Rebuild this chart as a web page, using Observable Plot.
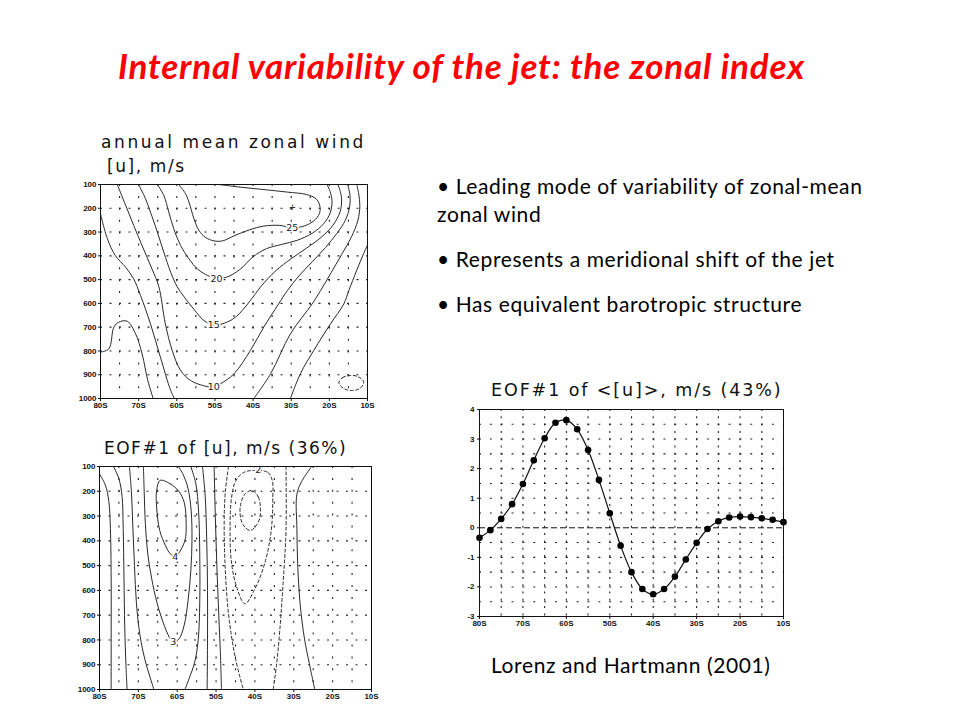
<!DOCTYPE html>
<html><head><meta charset="utf-8">
<script src="https://cdn.jsdelivr.net/npm/d3@7"></script>
<script src="https://cdn.jsdelivr.net/npm/@observablehq/plot@0.6"></script>
<style>
body{margin:0;background:#fff;}
#slide{position:relative;width:960px;height:720px;overflow:hidden;background:#fff;}
.abs{position:absolute;white-space:nowrap;}
.title{font-family:Lato;font-weight:bold;font-style:italic;font-size:35px;line-height:35px;letter-spacing:0.8px;color:#ff0000;}
.bul{font-family:Lato;font-size:21px;line-height:21px;letter-spacing:0.6px;color:#000;}
.pt{font-family:"DejaVu Sans";color:#111;line-height:17px;}
</style></head><body><div id="slide">
<div class="abs title" style="left:118px;top:48px;">Internal variability of the jet: the zonal index</div>
<div class="abs pt" style="left:101px;top:134px;font-size:17px;letter-spacing:2.6px;">annual mean zonal wind</div>
<div class="abs pt" style="left:107px;top:158px;font-size:17px;letter-spacing:1.6px;">[u], m/s</div>
<div class="abs pt" style="left:104px;top:440px;font-size:17px;letter-spacing:1.5px;">EOF#1 of [u], m/s (36%)</div>
<div class="abs pt" style="left:491px;top:382px;font-size:17.5px;letter-spacing:1.9px;">EOF#1 of &lt;[u]&gt;, m/s (43%)</div>
<div class="abs bul" style="left:437px;top:175px;">• Leading mode of variability of zonal-mean</div>
<div class="abs bul" style="left:437px;top:203px;">zonal wind</div>
<div class="abs bul" style="left:437px;top:248px;">• Represents a meridional shift of the jet</div>
<div class="abs bul" style="left:437px;top:293px;">• Has equivalent barotropic structure</div>
<div class="abs bul" style="left:491px;top:654px;">Lorenz and Hartmann (2001)</div>
<div class="abs" id="c1" style="left:60px;top:178px;"></div>
<div class="abs" id="c2" style="left:59px;top:460px;"></div>
<div class="abs" id="c3" style="left:440px;top:403px;"></div>
</div>
<script>
// ---------- axis ticks ----------
const latTicks = [80, 70, 60, 50, 40, 30, 20, 10];
const latGrid = [75, 70, 65, 60, 55, 50, 45, 40, 35, 30, 25, 20, 15];
const pTicks = [100, 200, 300, 400, 500, 600, 700, 800, 900, 1000];
const pGrid = [200, 300, 400, 500, 600, 700, 800, 900];
const eofTicks = [-3, -2, -1, 0, 1, 2, 3, 4];
const eofGrid = [-2.5, -2, -1.5, -1, -0.5, 0.5, 1, 1.5, 2, 2.5, 3, 3.5];

// ---------- panel 1: annual mean zonal wind [lat S, hPa] ----------
const u25 = [[59.5,100],[57.7,139],[56.8,174],[55.5,244],[54.2,293],[52.5,322],[50.3,337],[48,337],[45,316],[41,291],[37.2,275],[33,272],[29.7,282],[26.5,274],[24,252],[22.6,222],[22.5,190],[23.5,160],[26,142],[31,132],[38,120],[44,110],[49,100]];
const u20 = [[65.1,100],[63.4,146],[62.1,216],[60.8,286],[59,357],[56.8,413],[54.6,455],[52.5,478],[50,493],[47,490],[43.5,458],[40,404],[36.5,370],[32.5,352],[28.5,335],[24.5,305],[21.5,265],[19.8,220],[19.3,170],[19.8,130],[20.6,100]];
const u15 = [[70,100],[68.2,160],[66.9,216],[65.1,300],[63.4,385],[61.6,469],[59.9,530],[58.2,570],[55.5,625],[52.9,672],[50.3,692],[47.5,683],[44.6,658],[40.7,588],[38,530],[34,462],[30,412],[26,368],[22,320],[19,270],[17.2,215],[16.8,160],[17.3,120],[17.8,100]];
const u10 = [[75.6,100],[73.4,188],[71.3,272],[69.1,357],[66.5,455],[64.7,530],[63,686],[61.2,798],[59,882],[56.4,924],[53,946],[50.3,952],[48.5,938],[45,896],[40.7,798],[37.2,700],[33.3,602],[31,546],[28,485],[24.5,425],[21,365],[18,305],[15.8,250],[14.7,195],[14.6,145],[15.2,100]];
const u5a = [[80,223],[78.2,328],[76.1,399],[73.4,448],[71.3,497],[69.5,567],[66.9,686],[64.3,826],[61.6,966],[60.6,1000]];
const u5b = [[39.8,1000],[35.4,896],[30.2,728],[24.5,602],[22.3,546],[19.5,470],[16.8,395],[14.2,320],[12.5,250],[12,190],[12.3,140],[12.8,100]];
const u0a = [[80,805],[77.8,791],[76.5,700],[75.2,679],[73,675],[70.8,728],[69.1,812],[67.6,924],[66.2,1000]];
const u0b = [[30.2,1000],[27.6,896],[24.1,798],[19.7,686],[16.2,602],[14.9,546],[12.8,460],[11,390],[10,355]];
const uNeg5 = [[17.5,935],[16.5,912],[14.5,903],[12.5,908],[11,930],[12,958],[14,966],[16,960]];
const uLabels = [["25",29.7,284],["20",49.6,497],["15",50.3,692],["10",50.3,952]];
const uMax = [[29.7,195]];

// ---------- panel 2: EOF#1 of [u] ----------
const e0a = [[80,130],[78.5,175],[77.6,240],[77.2,350],[77,550],[77,800],[77,1000]];
const e1a = [[76.4,100],[75,150],[74.2,220],[73.9,350],[73.7,550],[73.5,750],[73.2,900],[72.9,1000]];
const e2a = [[72.3,100],[71.8,200],[71.4,350],[71,500],[70.5,650],[69.6,780],[68.3,880],[67,950],[66,1000]];
const e3 = [[68.7,100],[68.5,200],[68.2,330],[67.6,450],[66.6,550],[65.2,650],[63.6,730],[62,790],[61,810],[59.5,795],[58.2,740],[57.2,640],[56.5,520],[56.2,400],[56.4,280],[57.2,190],[58.4,135],[59.7,100]];
const e4 = [[64.4,156],[61.8,170],[59.6,200],[58.2,245],[57.7,331],[58,398],[59.7,452],[60.5,463],[61.8,452],[63,420],[64.5,358],[65.3,264],[65.3,197]];
const e2b = [[56.5,100],[55.2,170],[54.5,280],[54.2,450],[54.2,650],[54.6,800],[55.5,890],[56.8,950],[58,1000]];
const e1b = [[53.5,100],[52.8,220],[52.4,400],[52.2,600],[52.2,800],[52.3,1000]];
const e0b = [[50.5,100],[50.2,300],[49.8,500],[49.3,700],[48.9,850],[48.6,1000]];
const eN1a = [[46.8,100],[47.6,200],[47.9,300],[47.7,492],[46.8,694],[45.1,868],[43,1000]];
const eN1b = [[32,100],[32,358],[32.7,559],[33.6,761],[34.4,895],[35.3,1000]];
const eN2 = [[39.6,115],[36.6,125],[35.5,160],[35.4,224],[35.8,358],[37.5,492],[40.2,600],[42.6,654],[44.7,586],[46,492],[46.4,358],[46,224],[45,160],[43,125]];
const eN3 = [[40.8,197],[39.1,224],[38.7,304],[40,345],[41.3,358],[43.2,331],[43.8,264],[42.5,210]];
const e0c = [[25.4,100],[27.2,140],[28.6,180],[29.3,224],[29.2,350],[29,492],[28.4,650],[27.2,800],[26,895],[24.6,1000]];
const eLabels = [["4",60.5,465],["3",61,810],["-2",39.6,115]];

// ---------- panel 3: EOF#1 of <[u]> ----------
const eofLat = [80,77.5,75,72.5,70,67.5,65,62.5,60,57.5,55,52.5,50,47.5,45,42.5,40,37.5,35,32.5,30,27.5,25,22.5,20,17.5,15,12.5,10];
const eofValue = [-0.34,-0.08,0.30,0.80,1.48,2.28,3.03,3.55,3.64,3.33,2.63,1.62,0.49,-0.61,-1.50,-2.07,-2.25,-2.07,-1.65,-1.07,-0.51,-0.04,0.22,0.35,0.38,0.36,0.32,0.27,0.19];

// ---------- helpers ----------
function rows(list) {
  const out = [];
  list.forEach(([id, pts]) => pts.forEach(([lat, p]) => out.push({id, lat, p})));
  return out;
}
const tickStyle = {fontFamily: "Liberation Sans", fontSize: "8px", fontWeight: "bold", background: "transparent", color: "#111"};
const lineStroke = "#2a2a2a";
const dotGridX = (data, dash) => Plot.gridX(data, {stroke: "#222", strokeOpacity: 1, strokeWidth: 1.1, strokeDasharray: dash});
const dotGridY = (data, dash) => Plot.gridY(data, {stroke: "#222", strokeOpacity: 1, strokeWidth: 1.1, strokeDasharray: dash});

function contourPanel(opts) {
  return Plot.plot({
    width: opts.width, height: opts.height,
    marginLeft: opts.ml, marginRight: opts.mr, marginTop: opts.mt, marginBottom: opts.mb,
    style: tickStyle,
    x: {domain: [80, 10], ticks: latTicks, tickFormat: d => d + "S", tickSize: 3, tickPadding: 1, label: null},
    y: {domain: [100, 1000], reverse: true, ticks: pTicks, tickFormat: d => String(d), tickSize: 2, tickPadding: 2, label: null},
    marks: [
      dotGridX(latGrid, "2,9.9"),
      dotGridY(pGrid, "2,7.5"),
      Plot.line(rows(opts.solid), {x: "lat", y: "p", z: "id", curve: "catmull-rom", stroke: lineStroke, strokeWidth: 1, clip: true}),
      Plot.line(rows(opts.solidClosed || []), {x: "lat", y: "p", z: "id", curve: "catmull-rom-closed", stroke: lineStroke, strokeWidth: 1, clip: true}),
      Plot.line(rows(opts.dashed || []), {x: "lat", y: "p", z: "id", curve: "catmull-rom", stroke: lineStroke, strokeWidth: 1, strokeDasharray: "3,2.5", clip: true}),
      Plot.line(rows(opts.dashedClosed || []), {x: "lat", y: "p", z: "id", curve: "catmull-rom-closed", stroke: lineStroke, strokeWidth: 1, strokeDasharray: "3,2.5", clip: true}),
      Plot.text(opts.labels, {x: d => d[1], y: d => d[2], text: d => d[0], fontSize: 9.5, fontWeight: "normal", fontFamily: "DejaVu Sans", fill: "#222", stroke: "white", strokeWidth: 3}),
      ...(opts.extra || []),
      Plot.frame({stroke: "#111", strokeWidth: 1})
    ]
  });
}

document.getElementById("c1").append(contourPanel({
  width: 320, height: 242, ml: 40, mr: 13, mt: 6, mb: 22,
  solid: [["25", u25], ["20", u20], ["15", u15], ["10", u10], ["5a", u5a], ["5b", u5b], ["0a", u0a], ["0b", u0b]],
  dashedClosed: [["-5", uNeg5]],
  labels: uLabels,
  extra: [Plot.text(uMax, {x: d => d[0], y: d => d[1], text: () => "+", fontSize: 11, fontWeight: "normal", fill: "#333"})]
}));

document.getElementById("c2").append(contourPanel({
  width: 320, height: 251, ml: 40, mr: 8, mt: 6, mb: 22,
  solid: [["0a", e0a], ["1a", e1a], ["2a", e2a], ["3", e3], ["2b", e2b], ["1b", e1b], ["0b", e0b], ["0c", e0c]],
  solidClosed: [["4", e4]],
  dashed: [["-1a", eN1a], ["-1b", eN1b]],
  dashedClosed: [["-2", eN2], ["-3", eN3]],
  labels: eLabels
}));

const eofRows = eofLat.map((lat, i) => ({lat, v: eofValue[i]}));
document.getElementById("c3").append(Plot.plot({
  width: 350, height: 237, marginLeft: 39, marginRight: 7, marginTop: 6, marginBottom: 24,
  style: tickStyle,
  x: {domain: [80, 10], ticks: latTicks, tickFormat: d => d + "S", tickSize: 3, tickPadding: 1, label: null},
  y: {domain: [-3, 4], ticks: eofTicks, tickFormat: d => String(d), tickSize: 2, tickPadding: 3, label: null},
  marks: [
    dotGridX(latGrid, "2,5.3"),
    dotGridY(eofGrid, "2,8.85"),
    Plot.ruleY([0], {stroke: "#111", strokeWidth: 1, strokeDasharray: "6,3"}),
    Plot.line(eofRows, {x: "lat", y: "v", curve: "catmull-rom", stroke: "#111", strokeWidth: 1.2}),
    Plot.dot(eofRows, {x: "lat", y: "v", r: 3.3, fill: "#000", stroke: "none"}),
    Plot.frame({stroke: "#111", strokeWidth: 1})
  ]
}));
</script>
</body></html>
